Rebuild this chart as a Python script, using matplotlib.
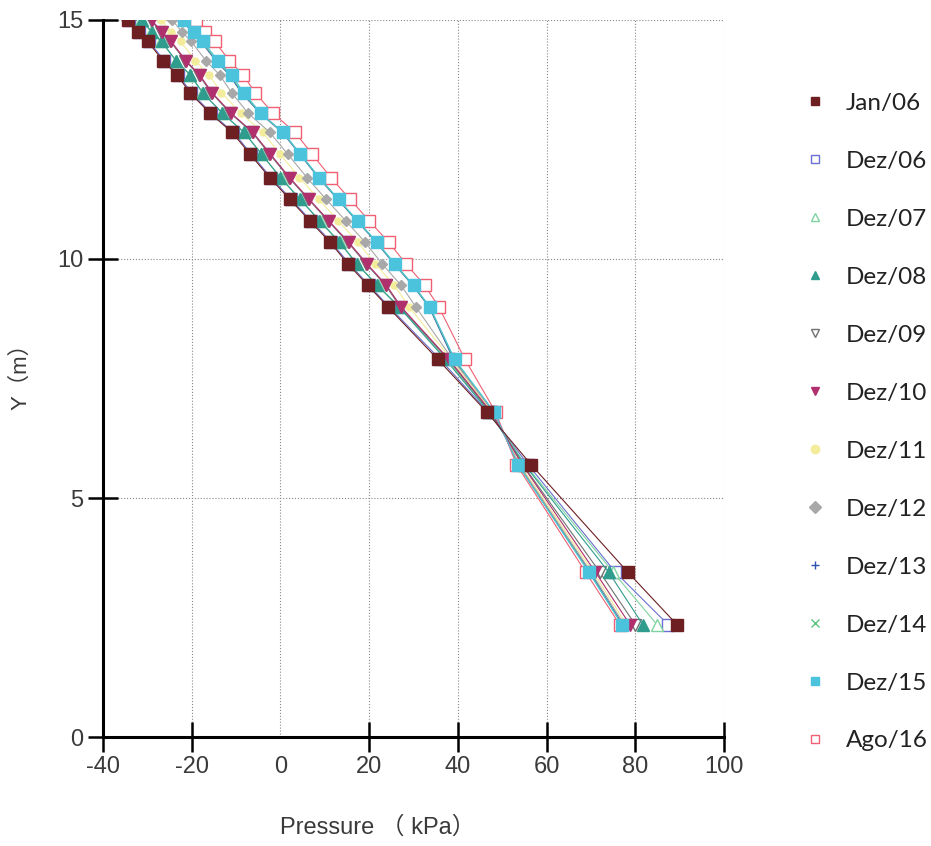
import matplotlib
matplotlib.use("Agg")
import matplotlib.pyplot as plt
from matplotlib.lines import Line2D

plt.rcParams["axes.unicode_minus"] = False

# depth of each reading (m)
depth = [15.0, 14.75, 14.55, 14.15, 13.85, 13.48, 13.05, 12.65, 12.2, 11.7, 11.25,
         10.8, 10.35, 9.9, 9.45, 9.0, 7.9, 6.8, 5.7, 3.45, 2.35]

# pressure readings (kPa) per survey
jan06 = [-34.4, -32.1, -29.9, -26.5, -23.3, -20.4, -15.9, -10.9, -6.9, -2.4, 2.1,
         6.6, 11.2, 15.2, 19.7, 24.2, 35.5, 46.5, 56.5, 78.3, 89.4]
dez06 = [-34.1, -31.8, -29.6, -26.2, -23.0, -20.1, -15.6, -10.6, -6.6, -2.1, 2.4,
         6.9, 11.5, 15.5, 20.0, 24.5, 36.0, 46.8, 55.8, 75.5, 87.4]
dez07 = [-31.4, -29.1, -26.9, -23.6, -20.4, -17.6, -13.1, -8.2, -4.3, 0.1, 4.5,
         8.9, 13.4, 17.3, 21.9, 26.8, 37.5, 47.2, 55.2, 75.0, 84.9]
dez08 = [-31.2, -29.0, -26.8, -23.5, -20.3, -17.5, -13.1, -8.2, -4.3, 0.0, 4.4,
         8.8, 13.3, 17.2, 21.8, 26.7, 37.2, 47.0, 55.0, 74.0, 81.7]
dez09 = [-29.2, -27.0, -24.8, -21.5, -18.4, -15.6, -11.3, -6.4, -2.5, 1.9, 6.3,
         10.7, 15.2, 19.3, 23.7, 27.0, 37.8, 47.3, 54.6, 72.0, 80.0]
dez10 = [-29.0, -26.8, -24.6, -21.3, -18.2, -15.4, -11.1, -6.2, -2.3, 2.1, 6.5,
         10.9, 15.4, 19.5, 23.9, 27.2, 38.0, 47.5, 54.5, 71.0, 78.8]
dez11 = [-26.9, -24.6, -22.5, -19.2, -16.1, -13.3, -8.9, -4.0, -0.1, 4.3, 8.7,
         13.0, 17.5, 21.3, 25.7, 29.0, 38.5, 47.8, 54.0, 70.5, 78.0]
dez12 = [-24.4, -22.2, -20.1, -16.8, -13.7, -11.0, -7.3, -2.4, 1.6, 6.0, 10.3,
         14.7, 19.1, 22.9, 27.2, 30.5, 38.8, 48.0, 53.8, 70.0, 77.5]
dez13 = [-22.2, -20.0, -17.9, -14.6, -11.5, -8.8, -4.6, 0.4, 4.3, 8.6, 12.9,
         17.2, 21.6, 25.6, 29.8, 33.5, 39.0, 48.0, 53.6, 69.8, 77.2]
dez14 = [-22.0, -19.8, -17.7, -14.4, -11.3, -8.6, -4.5, 0.5, 4.4, 8.7, 13.0,
         17.3, 21.7, 25.7, 29.9, 33.6, 39.2, 48.1, 53.6, 69.6, 77.0]
dez15 = [-21.7, -19.5, -17.4, -14.1, -11.0, -8.3, -4.4, 0.6, 4.5, 8.8, 13.1,
         17.4, 21.8, 25.8, 30.0, 33.7, 39.3, 48.2, 53.5, 69.5, 77.0]
ago16 = [-19.1, -16.9, -14.8, -11.5, -8.4, -5.7, -1.7, 3.3, 7.1, 11.4, 15.7,
         20.0, 24.4, 28.3, 32.5, 35.7, 41.6, 48.5, 53.2, 68.8, 76.5]

labels = ["Jan/06", "Dez/06", "Dez/07", "Dez/08", "Dez/09", "Dez/10",
          "Dez/11", "Dez/12", "Dez/13", "Dez/14", "Dez/15", "Ago/16"]
series = [jan06, dez06, dez07, dez08, dez09, dez10,
          dez11, dez12, dez13, dez14, dez15, ago16]

# (colour, marker, size, filled, zorder)
styles = [
    ("#6e1f22", "s", 8, True, 6),
    ("#6b6fd0", "s", 8, False, 3),
    ("#7fd3a0", "^", 8, False, 3),
    ("#2f9c8e", "^", 8, True, 5),
    ("#707070", "v", 8, False, 3),
    ("#b0306e", "v", 8, True, 5),
    ("#f3ec9a", "o", 5, True, 4),
    ("#a8a8a8", "D", 5.5, True, 4),
    ("#3050b0", "+", 6, True, 3),
    ("#5cc47c", "x", 5, True, 3),
    ("#4cc3dd", "s", 8, True, 5),
    ("#f06072", "s", 8, False, 4),
]

fig = plt.figure(figsize=(9.31, 8.46), dpi=100)
ax = fig.add_axes([0.1106, 0.1288, 0.6671, 0.8476])

handles = []
for vals, lab, (col, mk, ms, filled, z) in zip(series, labels, styles):
    face = col if filled else "white"
    ax.plot(vals, depth, color=col, lw=0.8, marker=mk, ms=ms,
            mfc=face, mec=col, mew=1.0, zorder=z)
    handles.append(Line2D([], [], ls="none", marker=mk, ms=6, color=col,
                          mfc=face, mec=col, mew=1.0))

ax.set_xlim(-40, 100)
ax.set_ylim(0, 15)
ax.set_xticks(range(-40, 101, 20))
ax.set_yticks([0, 5, 10, 15])

for side in ("top", "right"):
    ax.spines[side].set_visible(False)
for side in ("left", "bottom"):
    ax.spines[side].set_linewidth(2.2)
    ax.spines[side].set_color("black")

ax.grid(True, color="#888888", ls=":", lw=0.8)
ax.tick_params(direction="inout", length=22, width=1.8, colors="black",
               labelcolor="#3a3a3a", labelsize=17, pad=3)
for lab in ax.get_xticklabels() + ax.get_yticklabels():
    lab.set_fontfamily("Liberation Sans")
# no tick mark at zero pressure
ax.xaxis.get_major_ticks()[2].tick1line.set_visible(False)

ax.set_xlabel("Pressure （ kPa）", fontsize=17, color="#3a3a3a",
              family=["Liberation Sans", "Noto Sans CJK SC"])
ax.xaxis.set_label_coords(0.443, -0.11)
ax.set_ylabel("Y（m）", fontsize=16, color="#3a3a3a",
              family=["Liberation Sans", "Noto Sans CJK SC"])
ax.yaxis.set_label_coords(-0.115, 0.51)

fig.legend(handles, labels, loc="upper left", bbox_to_anchor=(0.841, 0.916),
           frameon=False, prop={"family": "Lato", "size": 17.5},
           labelspacing=1.52, handlelength=0.8, handletextpad=0.9,
           labelcolor="#222222")

fig.savefig("out.png", dpi=100, facecolor="white")
